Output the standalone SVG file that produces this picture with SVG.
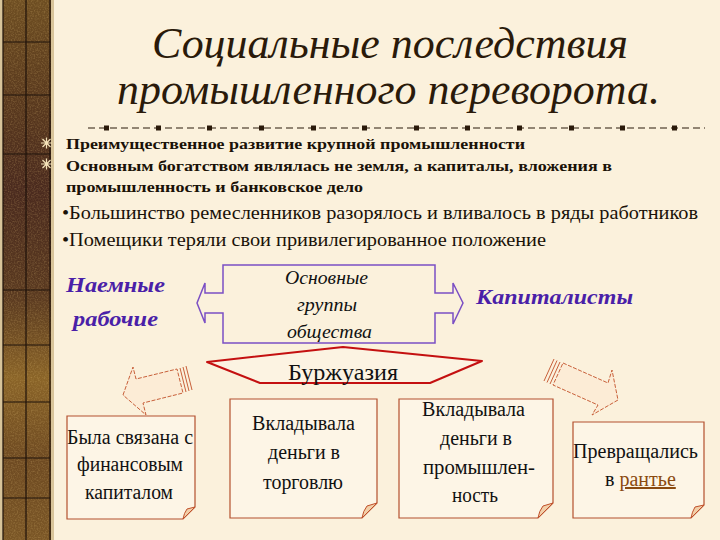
<svg xmlns="http://www.w3.org/2000/svg" width="720" height="540" viewBox="0 0 720 540">
<defs>
<linearGradient id="strip" x1="0" y1="0" x2="0" y2="1">
<stop offset="0" stop-color="#6e4e22"/>
<stop offset="0.18" stop-color="#5a3a1e"/>
<stop offset="0.35" stop-color="#4a2a1e"/>
<stop offset="0.55" stop-color="#5a3a20"/>
<stop offset="0.7" stop-color="#8a6428"/>
<stop offset="0.85" stop-color="#6e4a22"/>
<stop offset="1" stop-color="#7a5626"/>
</linearGradient>
<filter id="noise" x="0" y="0" width="1" height="1">
<feTurbulence type="fractalNoise" baseFrequency="0.7" numOctaves="2" seed="3" result="n"/>
<feColorMatrix type="matrix" values="0 0 0 0 0.8  0 0 0 0 0.55  0 0 0 0 0.2  0 0 0 1.2 -0.5"/>
<feComposite in2="SourceGraphic" operator="in"/>
</filter>
<style>
text{font-family:"Liberation Serif","Times New Roman",serif}
.title{font-style:italic;font-size:45px;fill:#2a1a0a}
.b1{font-weight:bold;font-size:15.5px;fill:#1a1208}
.b2{font-size:19px;fill:#1a1208}
.grp{font-weight:bold;font-style:italic;font-size:22px;fill:#4a1fa8}
.ctr{font-style:italic;font-size:18px;fill:#111}
.box{fill:#fdf5e6;stroke:#b4502e;stroke-width:1.2}
.curl{fill:#f2cfa8;stroke:#c0502a;stroke-width:1}
.bt{font-size:20px;fill:#111}
.arr{fill:#fcecd6;stroke:#c8603a;stroke-width:1;stroke-dasharray:4 1.5}
.stripe{stroke:#c8603a;stroke-width:1;fill:none}
.purple{fill:none;stroke:#7b4fc4;stroke-width:1.5}
</style>
</defs>
<rect width="720" height="540" fill="#fbf1dc"/>
<g id="strip">
<rect x="0" y="0" width="54" height="540" fill="#d8c49a"/>
<rect x="3" y="0" width="48" height="540" fill="url(#strip)"/>
<rect x="3" y="0" width="48" height="540" fill="#000" filter="url(#noise)" opacity="0.45"/>
<g stroke="#1e120a" stroke-width="1.2">
<line x1="26" y1="0" x2="26" y2="540"/>
<line x1="3" y1="0" x2="3" y2="540"/>
<line x1="50" y1="0" x2="50" y2="540"/>
<line x1="3" y1="42" x2="50" y2="42"/>
<line x1="3" y1="95" x2="50" y2="95"/>
<line x1="3" y1="154" x2="50" y2="154"/>
<line x1="3" y1="290" x2="50" y2="290"/>
<line x1="3" y1="345" x2="50" y2="345"/>
<line x1="3" y1="402" x2="50" y2="402"/>
<line x1="3" y1="458" x2="50" y2="458"/>
<line x1="3" y1="498" x2="50" y2="498"/>
</g>
</g>
<g id="title">
<text class="title" x="152" y="58" textLength="476" lengthAdjust="spacingAndGlyphs">Социальные последствия</text>
<text class="title" x="117" y="104" textLength="543" lengthAdjust="spacingAndGlyphs">промышленного переворота.</text>
</g>
<g id="divider">
<line x1="88" y1="128" x2="705" y2="128" stroke="#2a1a0a" stroke-width="1.2" stroke-dasharray="7 4"/>
<g fill="#2a1a0a">
<rect x="104" y="125.5" width="5" height="5"/><rect x="156" y="125.5" width="5" height="5"/>
<rect x="207" y="125.5" width="5" height="5"/><rect x="259" y="125.5" width="5" height="5"/>
<rect x="311" y="125.5" width="5" height="5"/><rect x="362" y="125.5" width="5" height="5"/>
<rect x="414" y="125.5" width="5" height="5"/><rect x="465" y="125.5" width="5" height="5"/>
<rect x="517" y="125.5" width="5" height="5"/><rect x="569" y="125.5" width="5" height="5"/>
<rect x="620" y="125.5" width="5" height="5"/><rect x="672" y="125.5" width="5" height="5"/>
</g>
</g>
<g id="stars" stroke="#f4e2b8" stroke-width="1.2">
<path d="M41 143h11M46.5 137.5v11M42.5 139l8 8M50.5 139l-8 8"/>
<path d="M41 164h11M46.5 158.5v11M42.5 160l8 8M50.5 160l-8 8"/>
</g>
<g id="bullets">
<text class="b1" x="66" y="149" textLength="459" lengthAdjust="spacingAndGlyphs">Преимущественное развитие крупной промышленности</text>
<text class="b1" x="66" y="171" textLength="546" lengthAdjust="spacingAndGlyphs">Основным богатством являлась не земля, а капиталы, вложения в</text>
<text class="b1" x="66" y="192" textLength="297" lengthAdjust="spacingAndGlyphs">промышленность и банковское дело</text>
<text class="b2" x="62" y="219" textLength="636" lengthAdjust="spacingAndGlyphs">•Большинство ремесленников разорялось и вливалось в ряды работников</text>
<text class="b2" x="62" y="246" textLength="484" lengthAdjust="spacingAndGlyphs">•Помещики теряли свои привилегированное положение</text>
</g>
<g id="workers">
<text class="grp" x="66" y="292" textLength="99" lengthAdjust="spacingAndGlyphs">Наемные</text>
<text class="grp" x="73" y="326" textLength="85" lengthAdjust="spacingAndGlyphs">рабочие</text>
</g>
<g id="capitalists">
<text class="grp" x="476" y="304" textLength="157" lengthAdjust="spacingAndGlyphs">Капиталисты</text>
</g>
<g id="groups">
<path class="purple" d="M223 265H435V293H453V283L463 303L453 324V313H435V343H223V313H205V323L197 303L205 283V293H223Z"/>
<text class="ctr" x="285" y="284" textLength="83" lengthAdjust="spacingAndGlyphs">Основные</text>
<text class="ctr" x="297" y="311" textLength="60" lengthAdjust="spacingAndGlyphs">группы</text>
<text class="ctr" x="287" y="338" textLength="85" lengthAdjust="spacingAndGlyphs">общества</text>
</g>
<g id="bourgeoisie">
<polygon points="207,362 343,347 482,361 430,383 260,383" fill="#fcf3e2" stroke="#c41010" stroke-width="2" stroke-linejoin="round"/>
<text x="288" y="380" font-size="23" fill="#111" textLength="110" lengthAdjust="spacingAndGlyphs">Буржуазия</text>
</g>
<g id="connectors">
<polygon class="arr" points="123,395 133,367 136,379 177,369 183,393 143,403 146,415"/>
<g class="stripe">
<line x1="180" y1="368" x2="186" y2="392"/>
<line x1="183" y1="367" x2="189" y2="391"/>
<line x1="186" y1="366" x2="192" y2="390"/>
</g>
<polygon class="arr" points="563,363 608,383 612,370 618,400 592,415 598,405 553,385"/>
<g class="stripe">
<line x1="560" y1="362" x2="550" y2="384"/>
<line x1="557" y1="360.5" x2="547" y2="382.5"/>
<line x1="554" y1="359" x2="544" y2="381"/>
</g>
</g>
<g id="box1">
<path class="box" d="M67 416H195V507L183 519H67Z"/>
<path class="curl" d="M183 519L195 507L187 509Q184 513 183 519Z"/>
<text class="bt" x="67" y="444" textLength="126" lengthAdjust="spacingAndGlyphs">Была связана с</text>
<text class="bt" x="77" y="471" textLength="106" lengthAdjust="spacingAndGlyphs">финансовым</text>
<text class="bt" x="85" y="499" textLength="88" lengthAdjust="spacingAndGlyphs">капиталом</text>
</g>
<g id="box2">
<path class="box" d="M230 399H377V503L362 518H230Z"/>
<path class="curl" d="M362 518L377 503L367 506Q363 511 362 518Z"/>
<text class="bt" x="252" y="430" textLength="103" lengthAdjust="spacingAndGlyphs">Вкладывала</text>
<text class="bt" x="268" y="459" textLength="72" lengthAdjust="spacingAndGlyphs">деньги в</text>
<text class="bt" x="263" y="489" textLength="80" lengthAdjust="spacingAndGlyphs">торговлю</text>
</g>
<g id="box3">
<path class="box" d="M399 399H553V503L538 518H399Z"/>
<path class="curl" d="M538 518L553 503L543 506Q539 511 538 518Z"/>
<text class="bt" x="422" y="416" textLength="103" lengthAdjust="spacingAndGlyphs">Вкладывала</text>
<text class="bt" x="440" y="445" textLength="72" lengthAdjust="spacingAndGlyphs">деньги в</text>
<text class="bt" x="423" y="474" textLength="112" lengthAdjust="spacingAndGlyphs">промышлен-</text>
<text class="bt" x="452" y="502" textLength="46" lengthAdjust="spacingAndGlyphs">ность</text>
</g>
<g id="box4">
<path class="box" d="M573 422H704V505L691 518H573Z"/>
<path class="curl" d="M691 518L704 505L695 507Q692 512 691 518Z"/>
<text class="bt" x="573" y="458" textLength="125" lengthAdjust="spacingAndGlyphs">Превращались</text>
<text class="bt" x="605" y="486">в <tspan fill="#8a4a10" text-decoration="underline">рантье</tspan></text>
</g>
</svg>
